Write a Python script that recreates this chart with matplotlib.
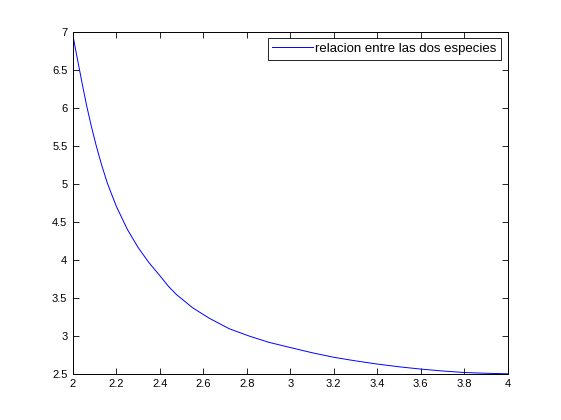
import matplotlib
matplotlib.use('Agg')
import matplotlib.pyplot as plt

# valores
x = [2.0, 2.015, 2.03, 2.047, 2.065, 2.085, 2.107, 2.132, 2.158, 2.18, 2.2,
     2.25, 2.3, 2.35, 2.4, 2.44, 2.475, 2.55, 2.628, 2.72, 2.812, 2.9,
     3.0, 3.1, 3.2, 3.3, 3.4, 3.5, 3.6, 3.7, 3.8, 3.9, 4.0]
y = [6.95, 6.72, 6.5, 6.25, 6.0, 5.75, 5.5, 5.245, 5.01, 4.845, 4.70,
     4.40, 4.16, 3.96, 3.79, 3.648, 3.545, 3.369, 3.229, 3.091, 2.995, 2.915,
     2.845, 2.777, 2.717, 2.67, 2.628, 2.592, 2.562, 2.537, 2.517, 2.507, 2.5]
etiqueta = 'relacion entre las dos especies'

plt.rcParams['font.family'] = ['Liberation Sans', 'DejaVu Sans']
plt.rcParams['font.size'] = 8

fig = plt.figure(figsize=(5.61, 4.2), dpi=100)
ax = fig.add_axes([0.13, 0.11, 0.775, 0.815])

ax.plot(x, y, color='#0000ff', lw=0.7, label=etiqueta)

ax.set_xlim(2, 4)
ax.set_ylim(2.5, 7)
ax.set_xticks([2, 2.2, 2.4, 2.6, 2.8, 3, 3.2, 3.4, 3.6, 3.8, 4])
ax.set_xticklabels(['2', '2.2', '2.4', '2.6', '2.8', '3', '3.2', '3.4', '3.6', '3.8', '4'])
ax.set_yticks([2.5, 3, 3.5, 4, 4.5, 5, 5.5, 6, 6.5, 7])
ax.set_yticklabels(['2.5', '3', '3.5', '4', '4.5', '5', '5.5', '6', '6.5', '7'])
ax.tick_params(direction='in', top=True, right=True, length=4, width=0.6, pad=4)
for s in ax.spines.values():
    s.set_linewidth(0.7)

leg = ax.legend(loc='upper right', fancybox=False, edgecolor='black',
                framealpha=1, fontsize=9.5, handlelength=3.1, borderpad=0.35,
                borderaxespad=0.5, handletextpad=0.15)
leg.get_frame().set_linewidth(0.6)

fig.savefig('out.png', dpi=100)
